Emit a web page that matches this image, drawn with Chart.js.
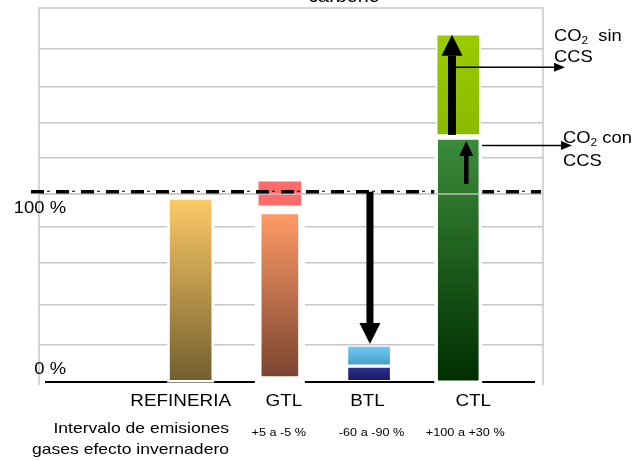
<!DOCTYPE html>
<html><head><meta charset="utf-8">
<script src="https://cdn.jsdelivr.net/npm/chart.js@4.4.0/dist/chart.umd.min.js"></script>
<style>html,body{margin:0;padding:0;background:#fff;}#wrap{width:635px;height:461px;position:relative;}</style>
</head><body><div id="wrap"><canvas id="c" width="635" height="461"></canvas></div>
<script>
// ---- data (percent of refinery emissions) ----
const categories = ['REFINERIA', 'GTL', 'BTL', 'CTL'];
const categoryPos = [1, 2, 3, 4];
const lowerBars = [[0, 100], [2, 92], [0, 7.4], [-0.3, 133]];
const upperBars = [null, [96, 110], [8.5, 19], [135.3, 190.4]];
const emissionRanges = ['', '+5 a -5 %', '-60 a -90 %', '+100 a +30 %'];
const rangeTitle = ['Intervalo de emisiones', 'gases efecto invernadero'];
const gridLevels = [19.6, 42, 65, 84.6, 102.8, 122.6, 141.9, 162, 183];
const referenceLevel = 104;
const yLabelTexts = ['100 %', '0 %'];
const yLabelValues = [94.5, 5.8];
const btlArrow = [104, 20.1];
const ctlArrowSin = [135.3, 190.4];
const ctlArrowCon = [108.3, 132];
const co2Levels = [172.5, 129.5];
const co2Labels = [['CO', '2', '  sin', 'CCS'], ['CO', '2', ' con', 'CCS']];
const titleText = 'carbono';

// ---- styles ----
const FONT = '"Liberation Sans", Arial, Helvetica, sans-serif';
const lowerStyle = [
  {grad: ['#FDCA68', '#735E2E'], w: 43, halo: 2, toAxis: false},
  {grad: ['#FF9A66', '#7A4530'], w: 38, halo: 6, toAxis: true},
  {grad: ['#2F3394', '#1A1A5A'], w: 43, halo: 0},
  {grad: ['#3B8C3B', '#002E00'], w: 42, halo: 3, toAxis: true, maskRef: true}
];
const upperStyle = [
  null,
  {grad: ['#FF6B6B', '#FF6B6B'], w: 44, halo: 0},
  {grad: ['#6BCEFB', '#4A9CC2'], w: 43, halo: 0},
  {grad: ['#9ACC00', '#8ABA00'], w: 43, halo: 1}
];

function gradFn(colors) {
  return (ctx) => {
    const chart = ctx.chart;
    if (!chart.chartArea || !ctx.raw) return colors[0];
    const ys = chart.scales.y, r = ctx.raw.y;
    const t = ys.getPixelForValue(Math.max(r[0], r[1]));
    const b = ys.getPixelForValue(Math.min(r[0], r[1]));
    const g = chart.ctx.createLinearGradient(0, t, 0, b);
    g.addColorStop(0, colors[0]); g.addColorStop(1, colors[1]);
    return g;
  };
}

const datasets = [];
categories.forEach((c, i) => {
  [[lowerBars[i], lowerStyle[i]], [upperBars[i], upperStyle[i]]].forEach(([rng, st]) => {
    if (!rng) return;
    datasets.push({
      label: c, data: [{x: categoryPos[i], y: rng}], grouped: false,
      barThickness: st.w, backgroundColor: gradFn(st.grad),
      borderColor: 'rgba(255,255,255,0.45)', borderWidth: 1, borderSkipped: false,
      halo: st.halo, haloToAxis: !!st.toAxis, maskRef: !!st.maskRef
    });
  });
});

function txt(ctx, s, x, y, size, align, sx, base) {
  ctx.save();
  ctx.font = size + 'px ' + FONT;
  ctx.fillStyle = '#000';
  ctx.textBaseline = base || 'middle';
  ctx.textAlign = align || 'left';
  ctx.translate(x, y); ctx.scale(sx || 1, 1);
  ctx.fillText(s, 0, 0);
  ctx.restore();
}
function vArrow(ctx, x, y0, y1, sw, hw, hl) {
  const dir = Math.sign(y1 - y0), hb = y1 - dir * hl;
  ctx.fillRect(x - sw / 2, Math.min(y0, hb), sw, Math.abs(hb - y0));
  ctx.beginPath(); ctx.moveTo(x - hw / 2, hb); ctx.lineTo(x + hw / 2, hb); ctx.lineTo(x, y1); ctx.closePath(); ctx.fill();
}
function hArrow(ctx, x0, x1, y, lw, hl, hh) {
  ctx.lineWidth = lw; ctx.beginPath(); ctx.moveTo(x0, y); ctx.lineTo(x1 - hl + 1, y); ctx.stroke();
  ctx.beginPath(); ctx.moveTo(x1 - hl, y - hh); ctx.lineTo(x1, y); ctx.lineTo(x1 - hl, y + hh); ctx.closePath(); ctx.fill();
}

const deco = {
  id: 'deco',
  beforeDatasetsDraw(chart) {
    const {ctx, chartArea: ca} = chart;
    ctx.save();
    ctx.strokeStyle = '#c8c8c8'; ctx.lineWidth = 1.5;
    ctx.beginPath(); ctx.moveTo(ca.left, ca.bottom + 3); ctx.lineTo(ca.left, ca.top);
    ctx.lineTo(ca.right, ca.top); ctx.lineTo(ca.right, ca.bottom + 3); ctx.stroke();
    ctx.strokeStyle = '#000'; ctx.lineWidth = 2;
    ctx.beginPath(); ctx.moveTo(ca.left + 6, ca.bottom); ctx.lineTo(ca.right - 8, ca.bottom); ctx.stroke();
    ctx.fillStyle = '#fff';
    chart.data.datasets.forEach((ds, i) => {
      if (!ds.halo) return;
      const p = chart.getDatasetMeta(i).data[0].getProps(['x', 'y', 'base', 'width'], true);
      const top = Math.min(p.y, p.base) - ds.halo;
      const bot = ds.haloToAxis ? ca.bottom + 3 : Math.max(p.y, p.base) + ds.halo;
      ctx.fillRect(p.x - p.width / 2 - ds.halo, top, p.width + 2 * ds.halo, bot - top);
    });
    ctx.restore();
  },
  afterDatasetsDraw(chart) {
    const {ctx, chartArea: ca, scales: {x, y}} = chart;
    ctx.save();
    const gy = y.getPixelForValue(gridLevels[4]);
    ctx.strokeStyle = 'rgba(200,200,200,0.9)'; ctx.lineWidth = 1.5;
    ctx.beginPath(); ctx.moveTo(ca.left, gy); ctx.lineTo(ca.right, gy); ctx.stroke();
    ctx.save();
    ctx.beginPath(); ctx.rect(0, 0, chart.width, chart.height);
    chart.data.datasets.forEach((ds, i) => {
      if (!ds.maskRef) return;
      const p = chart.getDatasetMeta(i).data[0].getProps(['x', 'y', 'base', 'width'], true);
      ctx.rect(p.x - p.width / 2 - 3, Math.min(p.y, p.base) - 6, p.width + 6, Math.abs(p.base - p.y) + 6);
    });
    ctx.clip('evenodd');
    const ry = y.getPixelForValue(referenceLevel);
    ctx.strokeStyle = '#000';
    ctx.lineWidth = 3.5; ctx.setLineDash([13, 12]);
    ctx.beginPath(); ctx.moveTo(ca.left - 8, ry); ctx.lineTo(ca.right - 2, ry); ctx.stroke();
    ctx.lineWidth = 1.2; ctx.setLineDash([3, 22]); ctx.lineDashOffset = -16;
    ctx.beginPath(); ctx.moveTo(ca.left - 8, ry - 0.5); ctx.lineTo(ca.right - 2, ry - 0.5); ctx.stroke();
    ctx.restore();
    ctx.fillStyle = '#000'; ctx.strokeStyle = '#000';
    vArrow(ctx, x.getPixelForValue(3.01), y.getPixelForValue(btlArrow[0]), y.getPixelForValue(btlArrow[1]), 7, 21, 21);
    vArrow(ctx, x.getPixelForValue(3.93), y.getPixelForValue(ctlArrowSin[0]), y.getPixelForValue(ctlArrowSin[1]), 8, 21, 21);
    vArrow(ctx, x.getPixelForValue(4.09), y.getPixelForValue(ctlArrowCon[0]), y.getPixelForValue(ctlArrowCon[1]), 4.5, 14, 15);
    hArrow(ctx, x.getPixelForValue(3.965), x.getPixelForValue(5.197), y.getPixelForValue(co2Levels[0]), 1.5, 11, 4.5);
    hArrow(ctx, x.getPixelForValue(4.266), x.getPixelForValue(5.275), y.getPixelForValue(co2Levels[1]), 1.5, 11, 4.5);
    ctx.restore();
  },
  afterDraw(chart) {
    const {ctx, chartArea: ca, scales: {x, y}} = chart;
    const catShift = [-10, 4, -1.5, 15];
    categories.forEach((c, i) => txt(ctx, c, x.getPixelForValue(categoryPos[i]) + catShift[i], ca.bottom + 20, 16, 'center', 1.18));
    const rngShift = [0, -1, 2.5, 7];
    emissionRanges.forEach((r, i) => { if (r) txt(ctx, r, x.getPixelForValue(categoryPos[i]) + rngShift[i], ca.bottom + 51, 11, 'center', 1.15); });
    txt(ctx, rangeTitle[0], 229, ca.bottom + 47, 15, 'right', 1.17);
    txt(ctx, rangeTitle[1], 229, ca.bottom + 68, 15, 'right', 1.17);
    yLabelTexts.forEach((t, i) => txt(ctx, t, 66, y.getPixelForValue(yLabelValues[i]), 16, 'right', 1.15));
    const co2Pos = [[ca.right + 11, -31, -10], [ca.right + 20, -7, 16]];
    co2Labels.forEach((l, i) => {
      const ay = y.getPixelForValue(co2Levels[i]);
      const [lx, d1, d2] = co2Pos[i];
      const sx = 1.08;
      ctx.save(); ctx.font = '17px ' + FONT;
      const w1 = ctx.measureText(l[0]).width * sx;
      ctx.font = '11px ' + FONT;
      const w2 = ctx.measureText(l[1]).width * sx;
      ctx.restore();
      txt(ctx, l[0], lx, ay + d1, 17, 'left', sx);
      txt(ctx, l[1], lx + w1, ay + d1 + 5, 11, 'left', sx);
      txt(ctx, l[2], lx + w1 + w2, ay + d1, 17, 'left', sx);
      txt(ctx, l[3], lx, ay + d2, 17, 'left', sx);
    });
    txt(ctx, titleText, 344, 2, 18, 'center', 1.1, 'alphabetic');
  }
};

new Chart(document.getElementById('c'), {
  type: 'bar',
  data: {datasets},
  options: {
    responsive: false, animation: false, devicePixelRatio: 1,
    layout: {padding: {left: 39, top: 8, right: 92, bottom: 79}},
    plugins: {legend: {display: false}, tooltip: {enabled: false}, title: {display: false}},
    scales: {
      x: {type: 'linear', min: -0.70, max: 4.95, offset: false, display: false},
      y: {
        type: 'linear', min: -0.8, max: 205.2,
        afterBuildTicks: (s) => { s.ticks = gridLevels.map(v => ({value: v})); },
        afterFit: (s) => { s.width = 0; },
        ticks: {display: false},
        grid: {color: '#c8c8c8', lineWidth: 1.5, drawTicks: false},
        border: {display: false}
      }
    }
  },
  plugins: [deco]
});
</script></body></html>
